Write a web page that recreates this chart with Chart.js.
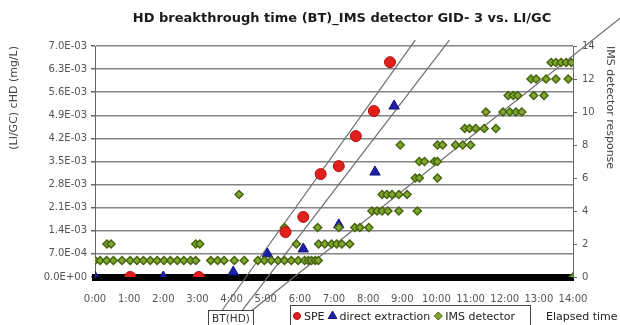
<!DOCTYPE html>
<html>
<head>
<meta charset="utf-8">
<script src="https://cdn.jsdelivr.net/npm/chart.js@4.4.1/dist/chart.umd.min.js"></script>
<style>
    html, body { margin: 0; padding: 0; background: #fff; }
</style>
</head>
<body>
<canvas id="btChart" width="620" height="325"></canvas>
<script>
// axis labels
var timeLabels = ['0:00', '1:00', '2:00', '3:00', '4:00', '5:00', '6:00', '7:00',
    '8:00', '9:00', '10:00', '11:00', '12:00', '13:00', '14:00'];
var concTickLabels = ['0.0E+00', '7.0E-04', '1.4E-03', '2.1E-03', '2.8E-03', '3.5E-03',
    '4.2E-03', '4.9E-03', '5.6E-03', '6.3E-03', '7.0E-03'];
var responseTicks = [0, 2, 4, 6, 8, 10, 12, 14];

// SPE samples, elapsed time (h) vs cHD (mg/L)
var speTime = [1.03, 3.04, 5.58, 6.1, 6.61, 7.14, 7.64, 8.17, 8.64];
var speConc = [0, 0, 0.00136, 0.00182, 0.00312, 0.00336, 0.00427, 0.00503, 0.00651];

// direct extraction samples
var directTime = [0, 2.0, 4.05, 5.05, 6.1, 7.14, 8.2, 8.76];
var directConc = [0, 0, 0.00015, 0.0007, 0.00085, 0.00158, 0.00318, 0.00518];

// IMS detector readings (right axis)
var imsTime = [
    0, 0.15, 0.34, 0.54, 0.79, 1.03, 1.23, 1.42, 1.62, 1.82, 2.02, 2.21, 2.41, 2.6, 2.8, 2.95,
    3.39, 3.59, 3.78, 4.08, 4.37, 4.77, 4.96, 5.16, 5.36, 5.55, 5.75, 5.95, 6.14, 6.25, 6.34, 6.45, 6.54,
    0.35, 0.47, 2.95, 3.07, 5.9, 6.55, 6.73, 6.93, 7.08, 7.23, 7.46,
    5.55, 6.52, 7.14, 7.61, 7.76, 8.02,
    8.11, 8.26, 8.41, 8.58, 8.9, 9.44,
    4.22, 8.41, 8.55, 8.7, 8.9, 9.14,
    9.38, 9.5, 10.03,
    9.5, 9.65, 9.94, 10.03,
    8.94, 10.03, 10.18, 10.56, 10.77, 11.0,
    10.83, 10.97, 11.15, 11.4, 11.74,
    11.45, 11.95, 12.15, 12.33, 12.5,
    12.1, 12.25, 12.38, 12.85, 13.15,
    12.77, 12.92, 13.21, 13.5, 13.86,
    13.36, 13.5, 13.65, 13.8, 13.95,
    14.0
];
var imsResponse = [
    1, 1, 1, 1, 1, 1, 1, 1, 1, 1, 1, 1, 1, 1, 1, 1,
    1, 1, 1, 1, 1, 1, 1, 1, 1, 1, 1, 1, 1, 1, 1, 1, 1,
    2, 2, 2, 2, 2, 2, 2, 2, 2, 2, 2,
    3, 3, 3, 3, 3, 3,
    4, 4, 4, 4, 4, 4,
    5, 5, 5, 5, 5, 5,
    6, 6, 6,
    7, 7, 7, 7,
    8, 8, 8, 8, 8, 8,
    9, 9, 9, 9, 9,
    10, 10, 10, 10, 10,
    11, 11, 11, 11, 11,
    12, 12, 12, 12, 12,
    13, 13, 13, 13, 13,
    0
];

// breakthrough guide lines, end points in data units [time, value]
var btLines = [
    { axis: 'y', from: [3.69, -0.00106], to: [9.38, 0.00718] },
    { axis: 'y', from: [4.28, -0.00106], to: [10.38, 0.00718] },
    { axis: 'y1', from: [4.54, -2.12], to: [16.05, 16.79] }
];

function toPoints(xs, ys) {
    return xs.map(function (x, i) { return { x: x, y: ys[i] }; });
}

var FONT = 'DejaVu Sans';

var extras = {
    id: 'extras',
    beforeDatasetsDraw: function (chart) {
        var ctx = chart.ctx;
        var sx = chart.scales.x;
        ctx.save();
        ctx.strokeStyle = '#6e6e6e';
        ctx.lineWidth = 1.2;
        btLines.forEach(function (l) {
            var sy = chart.scales[l.axis];
            ctx.beginPath();
            ctx.moveTo(sx.getPixelForValue(l.from[0]), sy.getPixelForValue(l.from[1]));
            ctx.lineTo(sx.getPixelForValue(l.to[0]), sy.getPixelForValue(l.to[1]));
            ctx.stroke();
        });
        ctx.restore();
    },
    afterDraw: function (chart) {
        var ctx = chart.ctx;
        var area = chart.chartArea;
        ctx.save();

        // title
        ctx.fillStyle = '#1a1a1a';
        ctx.font = 'bold 13px "' + FONT + '"';
        ctx.textAlign = 'center';
        ctx.textBaseline = 'middle';
        ctx.fillText('HD breakthrough time (BT)_IMS detector GID- 3 vs. LI/GC',
            (area.left + area.right) / 2 + 8, 19);

        // BT(HD) tag under the time axis
        ctx.fillStyle = '#fff';
        ctx.fillRect(208.5, 310.5, 45, 20);
        ctx.strokeStyle = '#444';
        ctx.lineWidth = 1;
        ctx.strokeRect(208.5, 310.5, 45, 20);
        ctx.fillStyle = '#333';
        ctx.font = '10.5px "' + FONT + '"';
        ctx.fillText('BT(HD)', 231, 319);

        // legend
        ctx.strokeStyle = '#444';
        ctx.strokeRect(290.5, 305.5, 240, 30);
        ctx.font = '11px "' + FONT + '"';
        ctx.textAlign = 'left';
        var x = 297;
        chart.data.datasets.forEach(function (ds) {
            ctx.fillStyle = ds.backgroundColor;
            ctx.strokeStyle = ds.borderColor;
            ctx.lineWidth = 1;
            Chart.helpers.drawPoint(ctx, {
                pointStyle: ds.pointStyle,
                radius: ds.legendRadius,
                rotation: 0,
                borderWidth: 1
            }, x, 316);
            ctx.fillStyle = '#222';
            ctx.fillText(ds.label, x + 7, 317);
            x += 7 + ctx.measureText(ds.label).width + 8;
        });

        // time axis title
        ctx.fillText('Elapsed time', 546, 317);
        ctx.restore();
    }
};

var ctx = document.getElementById('btChart').getContext('2d');
var btChart = new Chart(ctx, {
    type: 'scatter',
    data: {
        datasets: [
            {
                label: 'SPE',
                data: toPoints(speTime, speConc),
                yAxisID: 'y',
                pointStyle: 'circle',
                pointRadius: 5.5,
                legendRadius: 3.5,
                backgroundColor: '#e11f1c',
                borderColor: '#b3110e',
                borderWidth: 1,
                order: 0
            },
            {
                label: 'direct extraction',
                data: toPoints(directTime, directConc),
                yAxisID: 'y',
                pointStyle: 'triangle',
                pointRadius: 6,
                legendRadius: 5,
                backgroundColor: '#1d1fa6',
                borderColor: '#12137a',
                borderWidth: 1,
                order: 2
            },
            {
                label: 'IMS detector',
                data: toPoints(imsTime, imsResponse),
                yAxisID: 'y1',
                pointStyle: 'rectRot',
                pointRadius: 4,
                legendRadius: 4,
                backgroundColor: '#7fa82e',
                borderColor: '#46630f',
                borderWidth: 1.5,
                order: 1
            }
        ]
    },
    options: {
        responsive: false,
        animation: false,
        devicePixelRatio: 1,
        layout: { padding: { top: 46, left: 0, right: 0, bottom: 0 } },
        plugins: {
            legend: { display: false },
            tooltip: { enabled: false },
            title: { display: false }
        },
        scales: {
            x: {
                type: 'linear',
                position: 'bottom',
                min: 0,
                max: 14,
                afterFit: function (scale) { scale.height = 48; },
                afterBuildTicks: function (scale) {
                    scale.ticks = timeLabels.map(function (t, i) { return { value: i }; });
                },
                ticks: {
                    autoSkip: false,
                    maxRotation: 0,
                    padding: 8,
                    color: '#555',
                    font: { family: FONT, size: 10 },
                    callback: function (value, index) { return timeLabels[index]; }
                },
                grid: { display: false },
                border: { color: '#000', width: 7 }
            },
            y: {
                type: 'linear',
                position: 'left',
                min: 0,
                max: 0.007,
                afterFit: function (scale) { scale.width = 95; },
                afterBuildTicks: function (scale) {
                    scale.ticks = concTickLabels.map(function (t) { return { value: parseFloat(t) }; });
                },
                ticks: {
                    padding: 4,
                    color: '#555',
                    font: { family: FONT, size: 10 },
                    callback: function (value, index) { return concTickLabels[index]; }
                },
                grid: { color: '#858585', lineWidth: 1.5, tickLength: 4, tickColor: '#666' },
                border: { color: '#666', width: 1 },
                title: {
                    display: true,
                    text: '(LI/GC) cHD (mg/L)',
                    align: 'end',
                    color: '#444',
                    font: { family: FONT, size: 11 },
                    padding: { top: 8, bottom: 0 }
                }
            },
            y1: {
                type: 'linear',
                position: 'right',
                min: 0,
                max: 14,
                afterFit: function (scale) { scale.width = 47; },
                afterBuildTicks: function (scale) {
                    scale.ticks = responseTicks.map(function (v) { return { value: v }; });
                },
                ticks: {
                    padding: 5,
                    color: '#555',
                    font: { family: FONT, size: 10 }
                },
                grid: { drawOnChartArea: false, tickLength: 4, tickColor: '#666' },
                border: { color: '#666', width: 1 },
                title: {
                    display: true,
                    text: 'IMS detector response',
                    align: 'end',
                    color: '#444',
                    font: { family: FONT, size: 11 },
                    padding: { top: 4, bottom: 0 }
                }
            }
        }
    },
    plugins: [extras]
});
</script>
</body>
</html>
